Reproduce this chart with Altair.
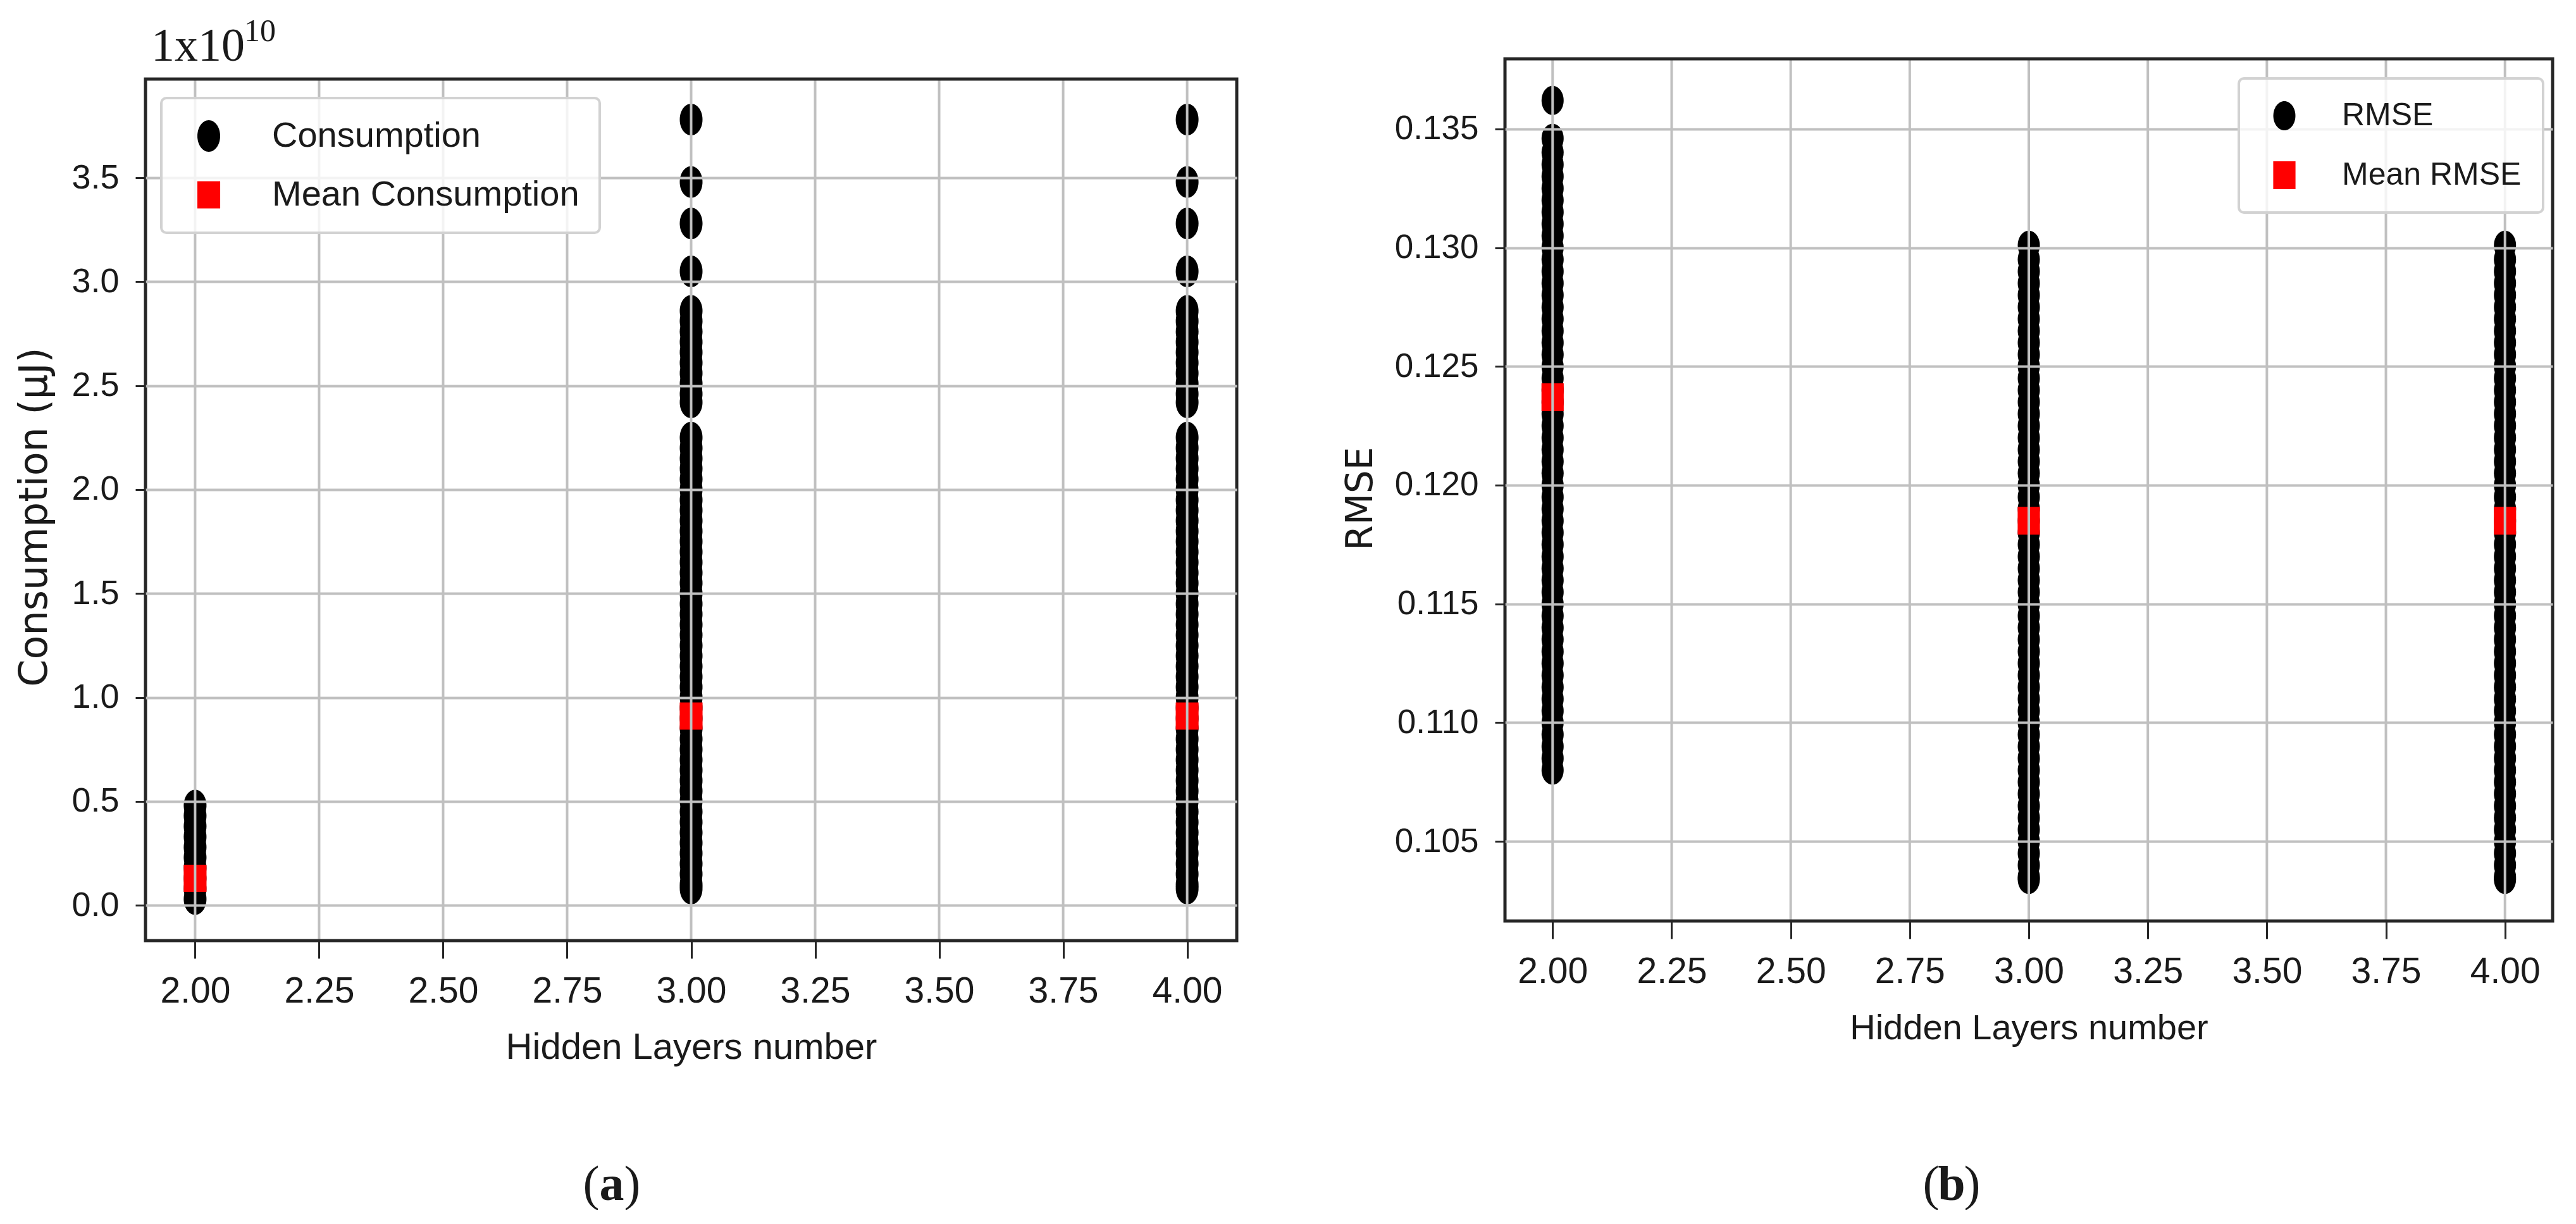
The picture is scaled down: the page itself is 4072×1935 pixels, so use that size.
import altair as alt
import pandas as pd

# ---------------- data ----------------
layers = [2, 3, 4]

# Consumption, in units of 1e10 uJ
cons_l2 = [0.03, 0.08, 0.13, 0.18, 0.23, 0.28, 0.33, 0.38, 0.43, 0.48]
cons_l3 = [3.78, 3.48, 3.28, 3.05,
           2.86, 2.81, 2.76, 2.71, 2.66, 2.61, 2.56, 2.51, 2.46, 2.42,
           2.25, 2.20, 2.15, 2.10, 2.05, 2.00, 1.95, 1.90, 1.85, 1.80,
           1.75, 1.70, 1.65, 1.60, 1.55, 1.50, 1.45, 1.40, 1.35, 1.30,
           1.25, 1.20, 1.15, 1.10, 1.05, 1.00, 0.95, 0.90, 0.85, 0.80,
           0.75, 0.70, 0.65, 0.60, 0.55, 0.50, 0.45, 0.40, 0.35, 0.30,
           0.25, 0.20, 0.15, 0.10, 0.08]
cons_l4 = [3.78, 3.48, 3.28, 3.05,
           2.86, 2.81, 2.76, 2.71, 2.66, 2.61, 2.56, 2.51, 2.46, 2.42,
           2.25, 2.20, 2.15, 2.10, 2.05, 2.00, 1.95, 1.90, 1.85, 1.80,
           1.75, 1.70, 1.65, 1.60, 1.55, 1.50, 1.45, 1.40, 1.35, 1.30,
           1.25, 1.20, 1.15, 1.10, 1.05, 1.00, 0.95, 0.90, 0.85, 0.80,
           0.75, 0.70, 0.65, 0.60, 0.55, 0.50, 0.45, 0.40, 0.35, 0.30,
           0.25, 0.20, 0.15, 0.10, 0.08]
cons_mean = [0.13, 0.91, 0.91]

rmse_l2 = [0.1362,
           0.1346, 0.1340, 0.1335, 0.1330, 0.1325, 0.1320, 0.1315, 0.1310,
           0.1305, 0.1300, 0.1295, 0.1290, 0.1285, 0.1280, 0.1275, 0.1270,
           0.1265, 0.1260, 0.1255, 0.1250, 0.1245, 0.1240, 0.1235, 0.1230,
           0.1225, 0.1220, 0.1215, 0.1210, 0.1205, 0.1200, 0.1195, 0.1190,
           0.1185, 0.1180, 0.1175, 0.1170, 0.1165, 0.1160, 0.1155, 0.1150,
           0.1145, 0.1140, 0.1135, 0.1130, 0.1125, 0.1120, 0.1115, 0.1110,
           0.1105, 0.1100, 0.1095, 0.1090, 0.1085, 0.1080]
rmse_l3 = [0.1301, 0.1295, 0.1290, 0.1285, 0.1280, 0.1275, 0.1270, 0.1265,
           0.1260, 0.1255, 0.1250, 0.1245, 0.1240, 0.1235, 0.1230, 0.1225,
           0.1220, 0.1215, 0.1210, 0.1205, 0.1200, 0.1195, 0.1190, 0.1185,
           0.1180, 0.1175, 0.1170, 0.1165, 0.1160, 0.1155, 0.1150, 0.1145,
           0.1140, 0.1135, 0.1130, 0.1125, 0.1120, 0.1115, 0.1110, 0.1105,
           0.1100, 0.1095, 0.1090, 0.1085, 0.1080, 0.1075, 0.1070, 0.1065,
           0.1060, 0.1055, 0.1050, 0.1045, 0.1040, 0.1035, 0.1034]
rmse_l4 = [0.1301, 0.1295, 0.1290, 0.1285, 0.1280, 0.1275, 0.1270, 0.1265,
           0.1260, 0.1255, 0.1250, 0.1245, 0.1240, 0.1235, 0.1230, 0.1225,
           0.1220, 0.1215, 0.1210, 0.1205, 0.1200, 0.1195, 0.1190, 0.1185,
           0.1180, 0.1175, 0.1170, 0.1165, 0.1160, 0.1155, 0.1150, 0.1145,
           0.1140, 0.1135, 0.1130, 0.1125, 0.1120, 0.1115, 0.1110, 0.1105,
           0.1100, 0.1095, 0.1090, 0.1085, 0.1080, 0.1075, 0.1070, 0.1065,
           0.1060, 0.1055, 0.1050, 0.1045, 0.1040, 0.1035, 0.1034]
rmse_mean = [0.1237, 0.1185, 0.1185]

x_ticks = [2.0, 2.25, 2.5, 2.75, 3.0, 3.25, 3.5, 3.75, 4.0]
cons_ticks = [0.0, 0.5, 1.0, 1.5, 2.0, 2.5, 3.0, 3.5]
rmse_ticks = [0.105, 0.110, 0.115, 0.120, 0.125, 0.130, 0.135]

# axis limits (matplotlib auto margins)
x_lim = [1.9, 4.1]
cons_lim = [-0.17, 3.975]
rmse_lim = [0.10165, 0.13795]

series_a = ["Consumption", "Mean Consumption"]
series_b = ["RMSE", "Mean RMSE"]
x_title = "Hidden Layers number"

# ---------------- styling ----------------
LSANS = "Liberation Sans, Arial, sans-serif"
SANS = "DejaVu Sans, sans-serif"
SERIF = "Liberation Serif, DejaVu Serif, serif"
INK = "#1a1a1a"
FRAME = "#262626"
GRID = "#c0c0c0"

# custom marker paths (the picture is stretched vertically, so circles are ellipses)
ELL_A = "M-0.72,0A0.72,1,0,1,0,0.72,0A0.72,1,0,1,0,-0.72,0Z"
SQ_A = "M-0.84,-1L0.84,-1L0.84,1L-0.84,1Z"
ELL_B = "M-0.76,0A0.76,1,0,1,0,0.76,0A0.76,1,0,1,0,-0.76,0Z"
SQ_B = "M-0.8,-1L0.8,-1L0.8,1L-0.8,1Z"


def long_df(cols, name):
    rows = []
    for x, vals in zip(layers, cols):
        for v in vals:
            rows.append({"layers": x, "value": v, "series": name})
    return pd.DataFrame(rows)


def text_layer(txt, x, y, size, font, align="left", baseline="alphabetic",
               opacity=1.0, weight="normal"):
    return alt.Chart(pd.DataFrame({"t": [txt]})).mark_text(
        align=align, baseline=baseline, font=font, fontSize=size, color=INK,
        opacity=opacity, fontWeight=weight
    ).encode(text="t:N", x=alt.value(x), y=alt.value(y))


def caption(letter, cx, y, size):
    half = size * 0.25
    return [
        text_layer("(", cx - half, y, size, SERIF, align="right"),
        text_layer(letter, cx, y, size, SERIF, align="center", weight="bold"),
        text_layer(")", cx + half, y, size, SERIF, align="left"),
    ]


def panel(df_pts, df_mean, names, shapes, sizes, frame_lim, y_top, y_ticks, y_fmt,
          y_title, y_title_size, y_title_x, y_title_y, y_label_size, x_title_size,
          w, h, leg_kw, extras):
    color = alt.Scale(domain=names, range=["#000000", "#ff0000"])
    shape = alt.Scale(domain=names, range=shapes)
    size = alt.Scale(domain=names, range=sizes)
    leg = alt.Legend(title=None, orient="none", cornerRadius=8, zindex=2,
                     strokeColor="#d2d2d2", fillColor="rgba(255,255,255,0.8)",
                     labelFont=LSANS, labelColor=INK, labelLimit=2000,
                     symbolStrokeWidth=0, **leg_kw)
    x_scale = alt.Scale(domain=x_lim, nice=False, zero=False)
    y_scale = alt.Scale(domain=[frame_lim[0], y_top], nice=False, zero=False)
    x_axis = alt.Axis(values=x_ticks, format=".2f", title=x_title, grid=False,
                      tickSize=28, labelPadding=69, labelBaseline="alphabetic",
                      titleY=186, titleBaseline="alphabetic",
                      labelFontSize=57, titleFontSize=x_title_size,
                      labelFont=LSANS, titleFont=LSANS,
                      labelFlush=False, labelOverlap=False)
    y_axis = alt.Axis(values=y_ticks, format=y_fmt, title=y_title, grid=True,
                      gridColor=GRID, gridWidth=4, zindex=1,
                      tickSize=16, labelPadding=26,
                      titleX=y_title_x, titleY=y_title_y,
                      titleBaseline="alphabetic", titleAngle=270,
                      labelFontSize=y_label_size, titleFontSize=y_title_size,
                      labelFont=LSANS, titleFont=SANS,
                      labelFlush=False, labelOverlap=False)
    x = alt.X("layers:Q", scale=x_scale, axis=x_axis)
    y = alt.Y("value:Q", scale=y_scale, axis=y_axis)
    enc = dict(x=x, y=y,
               color=alt.Color("series:N", scale=color, legend=leg),
               shape=alt.Shape("series:N", scale=shape, legend=leg),
               size=alt.Size("series:N", scale=size, legend=leg))
    pts = alt.Chart(df_pts).mark_point(filled=True, opacity=1, strokeWidth=0).encode(**enc)
    mean = alt.Chart(df_mean).mark_point(filled=True, opacity=1, strokeWidth=0).encode(**enc)
    # vertical grid lines (drawn over the markers, as in the picture), inside the frame only
    vgrid = alt.Chart(pd.DataFrame({"layers": x_ticks,
                                    "value": [frame_lim[0]] * len(x_ticks),
                                    "value2": [frame_lim[1]] * len(x_ticks)})).mark_rule(
        color=GRID, strokeWidth=4
    ).encode(x=x, y=y, y2="value2:Q")
    frame = alt.Chart(pd.DataFrame({"layers": [x_lim[0]], "layers2": [x_lim[1]],
                                    "value": [frame_lim[0]], "value2": [frame_lim[1]]})).mark_rect(
        fillOpacity=0, stroke=FRAME, strokeWidth=5
    ).encode(x=x, x2="layers2:Q", y=y, y2="value2:Q")
    return alt.layer(pts, mean, vgrid, frame, *extras).properties(width=w, height=h)


df_a = long_df([cons_l2, cons_l3, cons_l4], series_a[0])
df_a_mean = pd.DataFrame({"layers": layers, "value": cons_mean, "series": series_a[1]})
df_b = long_df([rmse_l2, rmse_l3, rmse_l4], series_b[0])
df_b_mean = pd.DataFrame({"layers": layers, "value": rmse_mean, "series": series_b[1]})

# panel (a) sits 32 px lower than panel (b): its plot area is extended upward by 32 px
# (the y domain continues above the frame), so both plot areas share the same origin.
EXTRA = 32
cons_top = cons_lim[1] + EXTRA * (cons_lim[1] - cons_lim[0]) / 1362

extras_a = [
    text_layer(".", -222, -78, 20, LSANS, baseline="top", opacity=0),
    text_layer("1x10", 9, -29 + EXTRA, 74, SERIF),
    text_layer("10", 156, -60 + EXTRA, 50, SERIF),
] + caption("a", 737, 1772 + EXTRA, 78)
extras_b = [
    text_layer(".", -270, -78, 20, LSANS, baseline="top", opacity=0),
] + caption("b", 706, 1804, 78)

chart_a = panel(df_a, df_a_mean, series_a, [ELL_A, SQ_A], [2500, 1849],
                cons_lim, cons_top, cons_ticks, ".1f", "Consumption (\u03bcJ)",
                62, -157, 692 + EXTRA, 54, 58, 1725, 1362 + EXTRA,
                dict(legendX=25, legendY=30 + EXTRA, padding=32, symbolOffset=15,
                     labelOffset=72, rowPadding=37, labelFontSize=56),
                extras_a)
chart_b = panel(df_b, df_b_mean, series_b, [ELL_B, SQ_B], [2116, 1936],
                rmse_lim, rmse_lim[1], rmse_ticks, ".3f", "RMSE",
                58, -211, 695, 53, 56, 1656, 1363,
                dict(legendX=1160, legendY=31, padding=34, symbolOffset=13,
                     labelOffset=66, rowPadding=44, labelFontSize=50),
                extras_b)

chart = alt.hconcat(chart_a, chart_b, spacing=151).resolve_scale(
    color="independent", shape="independent", size="independent",
    x="independent", y="independent"
).resolve_legend(
    color="independent", shape="independent", size="independent"
).configure_view(
    strokeWidth=0
).configure_axis(
    tickColor=FRAME, tickWidth=3,
    domain=False, labelColor=INK, titleColor=INK, titleFontWeight="normal"
).configure_legend(
    strokeWidth=4
).properties(
    padding={"left": 0, "top": 7, "right": 0, "bottom": 0},
    background="white"
)

chart.save("out.html", embed_options={"renderer": "svg", "actions": False})
